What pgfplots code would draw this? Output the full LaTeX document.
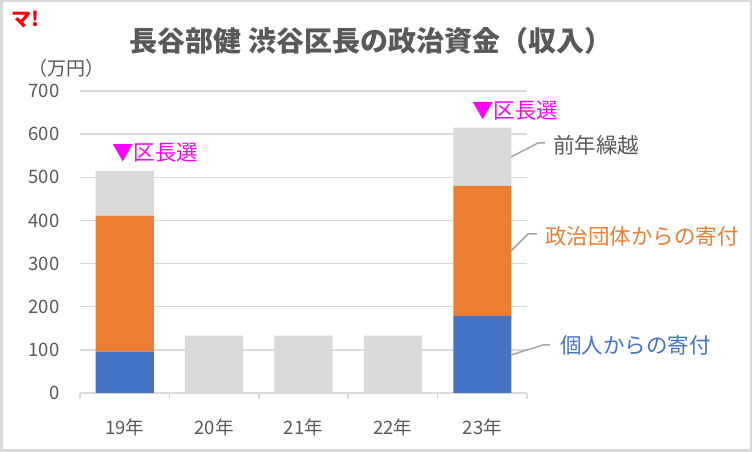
\documentclass[border=0pt]{standalone}
\usepackage{fontspec}
\setmainfont{Noto Sans CJK JP}
\usepackage{pgfplots}
\pgfplotsset{compat=1.18}
\definecolor{cblue}{HTML}{4472C4}
\definecolor{corange}{HTML}{ED7D31}
\definecolor{cgray}{HTML}{D9D9D9}
\definecolor{ctext}{HTML}{595959}
\definecolor{cline}{HTML}{A6A6A6}
\definecolor{cmag}{HTML}{FF00FF}
\newcommand{\numfont}{\fontsize{18.5bp}{21bp}\selectfont}
\newcommand{\jpfont}{\fontsize{21.5bp}{24bp}\selectfont}
\begin{document}
\begin{tikzpicture}[x=1bp,y=1bp]
\useasboundingbox (0,0) rectangle (752,452);
\fill[white] (0,0) rectangle (752,452);
\draw[cgray, line width=2.5bp] (1.25,1.25) rectangle (750.75,450.75);
\begin{axis}[
  at={(80bp,59bp)}, anchor=south west,
  scale only axis, width=447bp, height=302bp,
  ybar stacked, bar width=0.65,
  xmin=-0.5, xmax=4.5, ymin=0, ymax=700,
  xtick={0,1,2,3,4},
  xticklabels={19年,20年,21年,22年,23年},
  minor xtick={-0.5,0.5,1.5,2.5,3.5,4.5},
  ytick={0,100,...,700},
  axis x line*=bottom, axis y line*=left,
  y axis line style={draw=none},
  x axis line style={draw=cgray, line width=1.5bp, -},
  tick align=outside,
  major tick length=0pt,
  minor tick length=6bp,
  minor x tick style={draw=cgray, line width=1.5bp},
  ymajorgrids,
  major grid style={draw=cgray, line width=1.5bp},
  /pgf/number format/assume math mode=true,
  ticklabel style={font=\numfont, text=ctext},
  yticklabel style={xshift=-17bp},
  xticklabel style={yshift=-22bp},
  clip=false,
]
\addplot[fill=cblue, draw=none] coordinates {(0,96) (1,0) (2,0) (3,0) (4,179)};
\addplot[fill=corange, draw=none] coordinates {(0,315) (1,0) (2,0) (3,0) (4,301)};
\addplot[fill=cgray, draw=none] coordinates {(0,104) (1,133) (2,133) (3,133) (4,135)};
\end{axis}
% title
\node[text=ctext, font=\fontsize{28bp}{32bp}\selectfont\bfseries] at (371,411) {長谷部健 渋谷区長の政治資金（収入）};
% logo
\node[text=red, font=\fontsize{20bp}{22bp}\selectfont\bfseries] at (25,432) {マ!};
% unit
\node[text=ctext, font=\fontsize{19bp}{21bp}\selectfont] at (66,384) {（万円）};
% election markers
\node[text=cmag, anchor=west, inner sep=0, font=\jpfont] at (112,299) {▼区長選};
\node[text=cmag, anchor=west, inner sep=0, font=\jpfont] at (472,341) {▼区長選};
% leader lines
\draw[cline, line width=1.5bp] (511,295) -- (538,309) -- (545,309);
\draw[cline, line width=1.5bp] (511,201) -- (528,218) -- (537,218);
\draw[cline, line width=1.5bp] (511,97) -- (543,107) -- (550,107);
\node[text=ctext, anchor=west, inner sep=0, font=\jpfont] at (553,307) {前年繰越};
\node[text=corange, anchor=west, inner sep=0, font=\jpfont] at (545,216) {政治団体からの寄付};
\node[text=cblue, anchor=west, inner sep=0, font=\jpfont] at (560,107) {個人からの寄付};
\end{tikzpicture}
\end{document}
